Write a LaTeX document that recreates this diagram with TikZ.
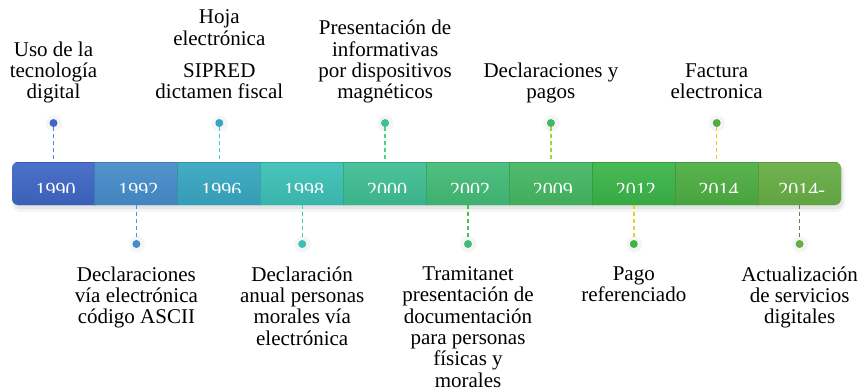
\documentclass[tikz,border=0pt]{standalone}
\usepackage{fontspec}
\setmainfont{Liberation Serif}
\usetikzlibrary{positioning, shadows}
\definecolor{c0}{HTML}{3F66C4}
\definecolor{c1}{HTML}{458CCA}
\definecolor{c2}{HTML}{38A6C1}
\definecolor{c3}{HTML}{3CC0B6}
\definecolor{c4}{HTML}{3FBE93}
\definecolor{c5}{HTML}{43BB77}
\definecolor{c6}{HTML}{44B762}
\definecolor{c7}{HTML}{3BB448}
\definecolor{c8}{HTML}{4DAD41}
\definecolor{c9}{HTML}{67AD45}
\definecolor{l0}{HTML}{5B85D6}
\definecolor{l1}{HTML}{3E9BD9}
\definecolor{l2}{HTML}{40CBD4}
\definecolor{l3}{HTML}{3FD1BB}
\definecolor{l4}{HTML}{45D48A}
\definecolor{l5}{HTML}{4CC04E}
\definecolor{l6}{HTML}{9ED33A}
\definecolor{l7}{HTML}{E0D226}
\definecolor{l8}{HTML}{F0C419}
\definecolor{l9}{HTML}{5F7F4F}
\begin{document}
\begin{tikzpicture}[x=1pt, y=-1pt,
		seg/.style={rectangle, minimum width=83.5pt, minimum height=43pt, inner sep=0pt, draw=#1!88!black, line width=.6pt, top color=#1!93!white, bottom color=#1!94!black},
		yr/.style={text=white, font=\fontsize{20}{20}\selectfont, anchor=base, inner sep=0pt, xshift=2pt, yshift=-12.5pt},
		dot/.style={circle, fill=#1, minimum size=8pt, inner sep=0pt, circular drop shadow={shadow xshift=0pt, shadow yshift=0pt, shadow scale=2.2, opacity=.08}},
		lnk/.style={draw=#1, dash pattern=on 4pt off 3pt, line width=1.4pt},
		up/.style={align=center, inner sep=0pt, font=\fontsize{21}{21.3}\selectfont, execute at end node=\strut},
		down/.style={align=center, inner sep=0pt, font=\fontsize{21}{21.3}\selectfont, execute at begin node=\strut}]
	\useasboundingbox (0,0) rectangle (859,391);
	\fill[black!18, rounded corners=7pt, opacity=.5] (13,165) rectangle (843,209);
	\fill[black!10, rounded corners=8pt, opacity=.4] (12,164) rectangle (845,212);
	\begin{scope}
		\clip[rounded corners=6pt] (12,162) rectangle (841,205);
		\node[seg=c0] (s0) at (53.5,183.5) {};
		\node[seg=c1] (s1) at (136.4,183.5) {};
		\node[seg=c2] (s2) at (219.3,183.5) {};
		\node[seg=c3] (s3) at (302.2,183.5) {};
		\node[seg=c4] (s4) at (385.1,183.5) {};
		\node[seg=c5] (s5) at (468,183.5) {};
		\node[seg=c6] (s6) at (550.9,183.5) {};
		\node[seg=c7] (s7) at (633.8,183.5) {};
		\node[seg=c8] (s8) at (716.7,183.5) {};
		\node[seg=c9] (s9) at (799.6,183.5) {};
		\clip (0,0) rectangle (859,192.5);
		\node[yr] (y0) at (s0) {1990};
		\node[yr] (y1) at (s1) {1992};
		\node[yr] (y2) at (s2) {1996};
		\node[yr] (y3) at (s3) {1998};
		\node[yr] (y4) at (s4) {2000};
		\node[yr] (y5) at (s5) {2002};
		\node[yr] (y6) at (s6) {2009};
		\node[yr] (y7) at (s7) {2012};
		\node[yr] (y8) at (s8) {2014};
		\node[yr] (y9) at (s9) {2014-};
	\end{scope}
	\node[dot=c0] (d0) at (53.5,123) {};
	\node[dot=c1] (d1) at (136.4,244) {};
	\node[dot=c2] (d2) at (219.3,123) {};
	\node[dot=c3] (d3) at (302.2,244) {};
	\node[dot=c4] (d4) at (385.1,123) {};
	\node[dot=c5] (d5) at (468,244) {};
	\node[dot=c6] (d6) at (550.9,123) {};
	\node[dot=c7] (d7) at (633.8,244) {};
	\node[dot=c8] (d8) at (716.7,123) {};
	\node[dot=c9] (d9) at (799.6,244) {};
	\draw[lnk=l0] (d0) -- (s0.north);
	\draw[lnk=l1] (s1.south) -- (d1);
	\draw[lnk=l2] (d2) -- (s2.north);
	\draw[lnk=l3] (s3.south) -- (d3);
	\draw[lnk=l4] (d4) -- (s4.north);
	\draw[lnk=l5] (s5.south) -- (d5);
	\draw[lnk=l6] (d6) -- (s6.north);
	\draw[lnk=l7] (s7.south) -- (d7);
	\draw[lnk=l8] (d8) -- (s8.north);
	\draw[lnk=l9] (s9.south) -- (d9);
	\node[up, above=13.6pt of d0] (t0) {Uso de la\\tecnología\\digital};
	\node[up, above=13.6pt of d2] (t2) {Hoja\\electrónica\\[11pt]SIPRED\\dictamen fiscal};
	\node[up, above=13.6pt of d4] (t4) {Presentación de\\informativas\\por dispositivos\\magnéticos};
	\node[up, above=13.6pt of d6] (t6) {Declaraciones y\\pagos};
	\node[up, above=13.6pt of d8] (t8) {Factura\\electronica};
	\node[down, below=18.3pt of d1] (t1) {Declaraciones\\vía electrónica\\código ASCII};
	\node[down, below=18.3pt of d3] (t3) {Declaración\\anual personas\\morales vía\\electrónica};
	\node[down, below=18.3pt of d5] (t5) {Tramitanet\\presentación de\\documentación\\para personas\\físicas y\\morales};
	\node[down, below=18.3pt of d7] (t7) {Pago\\referenciado};
	\node[down, below=18.3pt of d9] (t9) {Actualización\\de servicios\\digitales};
\end{tikzpicture}
\end{document}
